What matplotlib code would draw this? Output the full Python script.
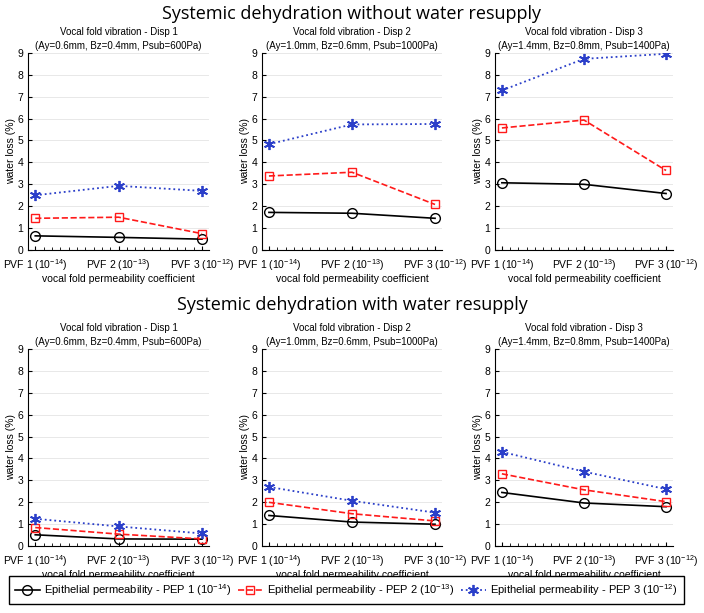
import numpy as np
import matplotlib
matplotlib.use('Agg')
import matplotlib.pyplot as plt
from matplotlib.ticker import MultipleLocator

plt.rcParams['font.family'] = ['Liberation Sans', 'DejaVu Sans']
plt.rcParams['mathtext.fontset'] = 'custom'
plt.rcParams['mathtext.rm'] = 'Liberation Sans'

# data
pvf = [1, 2, 3]
pvf_labels = ['PVF 1 (10$^{-14}$)', 'PVF 2 (10$^{-13}$)', 'PVF 3 (10$^{-12}$)']
disp_titles = ['Vocal fold vibration - Disp 1\n(Ay=0.6mm, Bz=0.4mm, Psub=600Pa)',
               'Vocal fold vibration - Disp 2\n(Ay=1.0mm, Bz=0.6mm, Psub=1000Pa)',
               'Vocal fold vibration - Disp 3\n(Ay=1.4mm, Bz=0.8mm, Psub=1400Pa)']
row_titles = ['Systemic dehydration without water resupply',
              'Systemic dehydration with water resupply']
pep_labels = ['Epithelial permeability - PEP 1 (10$^{-14}$)',
              'Epithelial permeability - PEP 2 (10$^{-13}$)',
              'Epithelial permeability - PEP 3 (10$^{-12}$)']

# without resupply: [disp][pep]
no_resupply = [
    [[0.65, 0.58, 0.50], [1.45, 1.50, 0.75], [2.50, 2.93, 2.70]],
    [[1.72, 1.68, 1.45], [3.38, 3.55, 2.08], [4.83, 5.73, 5.75]],
    [[3.07, 3.00, 2.58], [5.57, 5.93, 3.63], [7.28, 8.72, 8.95]],
]
# with resupply
resupply = [
    [[0.52, 0.33, 0.32], [0.85, 0.55, 0.33], [1.25, 0.90, 0.58]],
    [[1.40, 1.10, 1.00], [2.00, 1.48, 1.15], [2.70, 2.07, 1.53]],
    [[2.45, 1.97, 1.80], [3.30, 2.57, 2.03], [4.30, 3.40, 2.60]],
]

styles = [dict(color='black', ls='-', marker='o', mfc='none', ms=7, lw=1.2),
          dict(color='#ff1a1a', ls='--', marker='s', mfc='none', ms=6, lw=1.2),
          dict(color='#2b3fc9', ls=':', marker=(6, 2, 0), ms=8, mew=1.3, lw=1.3)]

fig = plt.figure(figsize=(7.04, 6.13), dpi=100)

lefts = [0.040, 0.372, 0.703]
widths = [0.257, 0.256, 0.253]
bottoms = [0.592, 0.109]
height = 0.322

handles = []
for r, data in enumerate([no_resupply, resupply]):
    for c in range(3):
        ax = fig.add_axes([lefts[c], bottoms[r], widths[c], height])
        for p in range(3):
            h, = ax.plot(pvf, data[c][p], label=pep_labels[p], **styles[p])
            if r == 0 and c == 0:
                handles.append(h)
        ax.set_xlim(0.915, 3.085)
        ax.set_ylim(0, 9)
        ax.set_yticks(range(10))
        ax.set_xticks(pvf)
        ax.set_xticklabels(pvf_labels, fontsize=7.5)
        ax.xaxis.set_minor_locator(MultipleLocator(0.1))
        ax.tick_params(direction='in', labelsize=7.5, length=3)
        ax.tick_params(which='minor', direction='in', length=2)
        ax.tick_params(axis='x', pad=5)
        ax.grid(axis='y', color='#e4e4e4', lw=0.6)
        ax.set_axisbelow(True)
        ax.spines['top'].set_visible(False)
        ax.spines['right'].set_visible(False)
        ax.set_ylabel('water loss (%)', fontsize=7.5, labelpad=1)
        ax.set_xlabel('vocal fold permeability coefficient', fontsize=7.5, labelpad=0.5)
        ax.set_title(disp_titles[c], fontsize=7, pad=3, linespacing=1.4)

fig.text(0.5, 0.977, row_titles[0], ha='center', va='center', fontsize=13, family='Open Sans')
fig.text(0.5, 0.502, row_titles[1], ha='center', va='center', fontsize=13, family='Open Sans')

leg = fig.legend(handles=handles, loc='center', ncol=3, bbox_to_anchor=(0.492, 0.038),
                 fontsize=8, frameon=True, fancybox=False, edgecolor='black', framealpha=1,
                 handlelength=2.2, handletextpad=0.4, columnspacing=0.6, borderpad=0.55)
leg.get_frame().set_linewidth(1.0)

fig.savefig('out.png', dpi=100)
